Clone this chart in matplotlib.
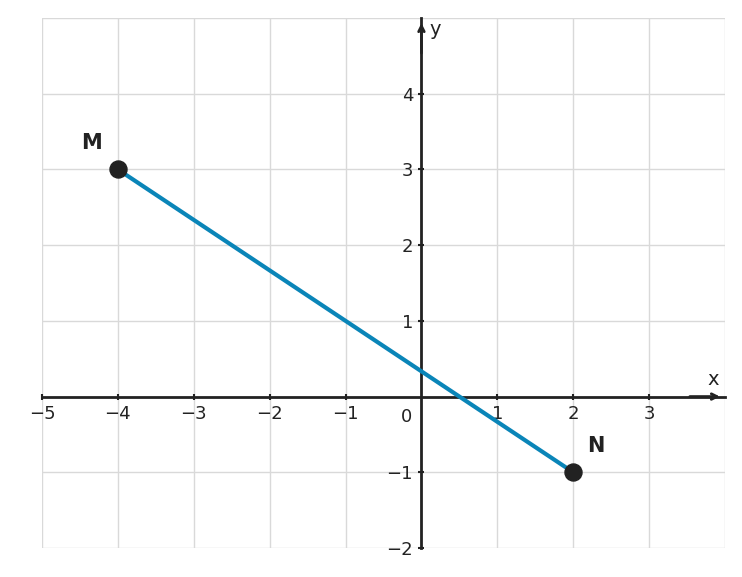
import matplotlib
matplotlib.use("Agg")
import matplotlib.pyplot as plt

# segment endpoints
pt_names = ["M", "N"]
pt_x = [-4, 2]
pt_y = [3, -1]

x_ticks = [-5, -4, -3, -2, -1, 1, 2, 3]
y_ticks = [-2, -1, 1, 2, 3, 4]

fig = plt.figure(figsize=(7.42, 5.77), dpi=100)
ax = fig.add_axes([42 / 742, 29 / 577, 683 / 742, 530 / 577])
ax.set_xlim(-5, 4)
ax.set_ylim(-2, 5)

for v in range(-5, 5):
    ax.axvline(v, color="#d9d9d9", lw=1, zorder=0)
for v in range(-2, 6):
    ax.axhline(v, color="#d9d9d9", lw=1, zorder=0)

for s in ["top", "right"]:
    ax.spines[s].set_visible(False)
ax.spines["left"].set_position(("data", 0))
ax.spines["bottom"].set_position(("data", 0))
for s in ["left", "bottom"]:
    ax.spines[s].set_color("#222222")
    ax.spines[s].set_linewidth(2)

ax.annotate("", xy=(3.97, 0), xytext=(3.5, 0),
            arrowprops=dict(arrowstyle="->", color="#222222", lw=2))
ax.annotate("", xy=(0, 4.97), xytext=(0, 4.5),
            arrowprops=dict(arrowstyle="->", color="#222222", lw=2))

ax.set_xticks(x_ticks)
ax.set_yticks(y_ticks)
ax.set_xticklabels(["\u2212%d" % -t if t < 0 else str(t) for t in x_ticks])
ax.set_yticklabels(["\u2212%d" % -t if t < 0 else str(t) for t in y_ticks])
ax.tick_params(labelsize=13, colors="#222222", length=5, width=1.5, direction="inout")
ax.text(-0.2, -0.15, "0", fontsize=13, color="#222222", ha="center", va="top")
ax.text(3.85, 0.1, "x", fontsize=14, color="#222222", ha="center", va="bottom")
ax.text(0.1, 4.85, "y", fontsize=14, color="#222222", ha="left", va="center")

ax.plot(pt_x, pt_y, color="#0a85b8", lw=3, zorder=3)
ax.scatter(pt_x, pt_y, s=150, color="#222222", zorder=4)
offsets = [(-0.35, 0.35), (0.3, 0.35)]
for n, x, y, (dx, dy) in zip(pt_names, pt_x, pt_y, offsets):
    ax.text(x + dx, y + dy, n, fontsize=15, fontweight="bold", color="#222222",
            ha="center", va="center")

fig.savefig("out.png", dpi=100)
